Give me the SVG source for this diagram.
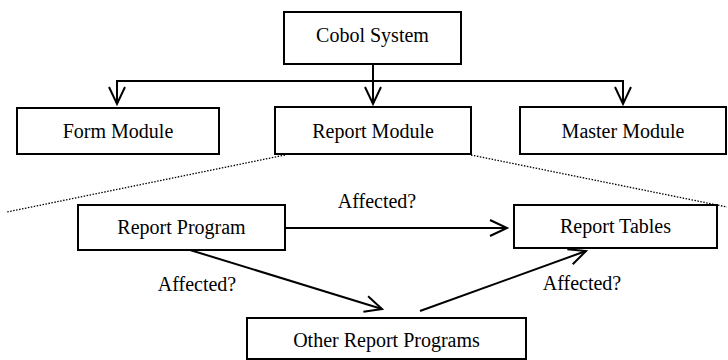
<svg xmlns="http://www.w3.org/2000/svg" width="728" height="360" viewBox="0 0 728 360">
<style>
.box{fill:#fff;stroke:#000;stroke-width:2}
.t{font-family:"Liberation Serif","Times New Roman",serif;font-size:20px;fill:#000;text-anchor:middle}
.c{fill:none;stroke:#000;stroke-width:2}
.d{fill:none;stroke:#000;stroke-width:1.3;stroke-dasharray:1.5 1.5}
</style>
<defs>
<marker id="ah" markerUnits="userSpaceOnUse" markerWidth="40" markerHeight="40" viewBox="-20 -20 40 40" refX="0" refY="0" orient="auto">
<path d="M-17,-8 L0,0 L-17,8" fill="none" stroke="#000" stroke-width="2"/>
</marker>
</defs>
<rect width="728" height="360" fill="#fff"/>
<g id="connectors">
<path class="c" d="M373,64 V104" marker-end="url(#ah)"/>
<path class="c" d="M117,104 V81 H623 V104" marker-end="url(#ah)"/>
<path class="c" d="M117,81 V104" marker-end="url(#ah)"/>
<path class="c" d="M285,228 H507" marker-end="url(#ah)"/>
<path class="c" d="M190,250 L382,309" marker-end="url(#ah)"/>
<path class="c" d="M420,311 L586,251" marker-end="url(#ah)"/>
<path class="d" d="M285,155 L7,212"/>
<path class="d" d="M471,155 L727,207"/>
<text class="t" x="377" y="208">Affected?</text>
<text class="t" x="197" y="291">Affected?</text>
<text class="t" x="582" y="290">Affected?</text>
</g>
<g id="cobol"><rect class="box" x="284" y="12" width="177" height="52"/><text class="t" x="372.5" y="42">Cobol System</text></g>
<g id="form"><rect class="box" x="17" y="108" width="202" height="46"/><text class="t" x="118" y="138">Form Module</text></g>
<g id="report"><rect class="box" x="275" y="107" width="196" height="47"/><text class="t" x="373" y="138">Report Module</text></g>
<g id="master"><rect class="box" x="520" y="107" width="206" height="47"/><text class="t" x="623" y="138">Master Module</text></g>
<g id="program"><rect class="box" x="78" y="205" width="207" height="45"/><text class="t" x="181.5" y="234">Report Program</text></g>
<g id="tables"><rect class="box" x="514" y="205" width="203" height="43"/><text class="t" x="615.5" y="233">Report Tables</text></g>
<g id="other"><rect class="box" x="247" y="318" width="279" height="41"/><text class="t" x="386.5" y="347">Other Report Programs</text></g>
</svg>
